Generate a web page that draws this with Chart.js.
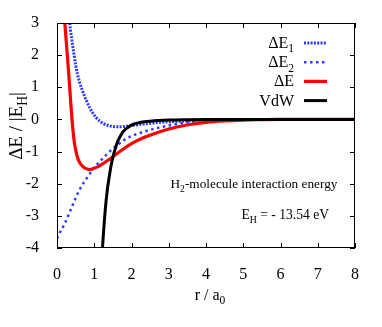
<!DOCTYPE html>
<html>
<head>
<meta charset="utf-8">
<script src="https://cdn.jsdelivr.net/npm/chart.js@4"></script>
<style>
  html, body { margin: 0; padding: 0; background: #fff; }
  canvas { display: block; }
</style>
</head>
<body>
<canvas id="myChart" width="382" height="327"></canvas>
<script>
// valores (r / a0 , dE / |EH|)
var rE1 = [0.33, 0.36, 0.39, 0.42, 0.45, 0.5, 0.55, 0.6, 0.66, 0.72, 0.8, 0.88, 0.96, 1.05, 1.15, 1.25, 1.38, 1.5, 1.65, 1.8, 2.0, 2.2, 2.5, 2.8, 3.2, 3.6, 4.0, 4.5, 5.0, 6.0, 8.0];
var dE1 = [3.1, 2.8, 2.55, 2.3, 2.07, 1.7, 1.4, 1.18, 0.97, 0.78, 0.56, 0.36, 0.2, 0.06, -0.05, -0.13, -0.19, -0.22, -0.23, -0.22, -0.19, -0.16, -0.12, -0.09, -0.06, -0.04, -0.025, -0.012, -0.005, 0, 0];

var rE2 = [0, 0.1, 0.2, 0.3, 0.4, 0.5, 0.6, 0.7, 0.8, 0.9, 1.0, 1.1, 1.2, 1.35, 1.5, 1.65, 1.83, 2.0, 2.2, 2.55, 3.0, 3.45, 4.0, 4.5, 5.0, 6.0, 8.0];
var dE2 = [-3.7, -3.47, -3.26, -3.0, -2.72, -2.45, -2.2, -2.0, -1.83, -1.66, -1.5, -1.37, -1.25, -1.07, -0.91, -0.77, -0.62, -0.52, -0.43, -0.31, -0.19, -0.1, -0.05, -0.025, -0.01, 0, 0];

var rE = [0.2, 0.22, 0.25, 0.28, 0.31, 0.34, 0.37, 0.4, 0.43, 0.47, 0.52, 0.57, 0.63, 0.7, 0.78, 0.88, 0.98, 1.1, 1.2, 1.33, 1.47, 1.65, 1.83, 2.0, 2.2, 2.55, 3.0, 3.45, 4.0, 4.5, 5.0, 5.5, 6.0, 8.0];
var dE = [3.2, 2.85, 2.4, 1.95, 1.5, 1.0, 0.5, 0.05, -0.35, -0.75, -1.05, -1.25, -1.38, -1.47, -1.53, -1.56, -1.53, -1.47, -1.4, -1.3, -1.19, -1.03, -0.88, -0.75, -0.63, -0.47, -0.3, -0.18, -0.09, -0.045, -0.02, -0.008, 0, 0];

var rVdW = [1.2, 1.22, 1.25, 1.3, 1.35, 1.4, 1.45, 1.5, 1.56, 1.63, 1.7, 1.78, 1.9, 2.05, 2.25, 2.5, 3.0, 3.5, 4.0, 5.0, 8.0];
var dVdW = [-4.3, -4.0, -3.5, -2.75, -2.2, -1.8, -1.45, -1.17, -0.93, -0.68, -0.52, -0.37, -0.25, -0.15, -0.09, -0.055, -0.02, -0.008, -0.003, 0, 0];

var xTicks = [0, 1, 2, 3, 4, 5, 6, 7, 8];
var yTicks = [-4, -3, -2, -1, 0, 1, 2, 3];

var FONT = '"Liberation Serif", "Times New Roman", serif';

function pts(xs, ys) {
  return xs.map(function (x, i) { return { x: x, y: ys[i] }; });
}

// texto con subindices: partes = [[texto, esSub], ...]
function richText(ctx, parts, x, y, size, align) {
  var w = 0;
  parts.forEach(function (p) {
    ctx.font = (p[1] ? size * 0.72 : size) + 'px ' + FONT;
    w += ctx.measureText(p[0]).width;
  });
  var cx = align === 'right' ? x - w : (align === 'center' ? x - w / 2 : x);
  ctx.textAlign = 'left';
  ctx.textBaseline = 'alphabetic';
  parts.forEach(function (p) {
    ctx.font = (p[1] ? size * 0.72 : size) + 'px ' + FONT;
    ctx.fillText(p[0], cx, p[1] ? y + size * 0.28 : y);
    cx += ctx.measureText(p[0]).width;
  });
}

var legendParts = [
  [['\u0394E', false], ['1', true]],
  [['\u0394E', false], ['2', true]],
  [['\u0394E', false]],
  [['VdW', false]]
];

var decor = {
  id: 'decor',
  afterDraw: function (chart) {
    var ctx = chart.ctx, a = chart.chartArea;
    var xs = chart.scales.x, ys = chart.scales.y;
    ctx.save();
    ctx.strokeStyle = '#000';
    ctx.lineWidth = 1;
    ctx.setLineDash([]);
    ctx.strokeRect(a.left + 0.5, a.top + 0.5, a.right - a.left - 1, a.bottom - a.top - 1);
    ctx.beginPath();
    xTicks.forEach(function (t) {
      var px = Math.round(xs.getPixelForValue(t)) + 0.5;
      ctx.moveTo(px, a.bottom); ctx.lineTo(px, a.bottom - 5);
      ctx.moveTo(px, a.top); ctx.lineTo(px, a.top + 5);
    });
    yTicks.forEach(function (t) {
      var py = Math.round(ys.getPixelForValue(t)) + 0.5;
      ctx.moveTo(a.left, py); ctx.lineTo(a.left + 5, py);
      ctx.moveTo(a.right, py); ctx.lineTo(a.right - 5, py);
    });
    ctx.stroke();

    // leyenda
    ctx.fillStyle = '#000';
    chart.data.datasets.forEach(function (ds, i) {
      var y = 43 + i * 19.2;
      richText(ctx, legendParts[i], 294, y + 5, 16, 'right');
      ctx.beginPath();
      ctx.strokeStyle = ds.borderColor;
      ctx.lineWidth = ds.borderWidth;
      ctx.setLineDash(ds.borderDash || []);
      ctx.moveTo(304, y); ctx.lineTo(327, y);
      ctx.stroke();
    });
    ctx.setLineDash([]);

    // anotaciones
    richText(ctx, [['H', false], ['2', true], ['-molecule interaction energy', false]], 170.5, 188, 13.3, 'left');
    richText(ctx, [['E', false], ['H', true], [' = - 13.54 eV', false]], 241.5, 219, 13.6, 'left');

    // titulos de ejes
    richText(ctx, [['r / a', false], ['0', true]], 210, 300, 16, 'center');
    ctx.translate(22, 126);
    ctx.rotate(-Math.PI / 2);
    richText(ctx, [['\u0394E / |E', false], ['H', true], ['|', false]], 0, 0, 19, 'center');
    ctx.restore();
  }
};

var ctx = document.getElementById('myChart').getContext('2d');
var myChart = new Chart(ctx, {
  type: 'line',
  data: {
    datasets: [
      { label: '\u0394E1', data: pts(rE1, dE1), borderColor: '#2a3cff', borderWidth: 3, borderDash: [2, 1.3], order: 4 },
      { label: '\u0394E2', data: pts(rE2, dE2), borderColor: '#2a3cff', borderWidth: 2.5, borderDash: [2.5, 3.5], order: 3 },
      { label: '\u0394E', data: pts(rE, dE), borderColor: '#ff0000', borderWidth: 3.2, order: 2 },
      { label: 'VdW', data: pts(rVdW, dVdW), borderColor: '#000000', borderWidth: 3, order: 1 }
    ]
  },
  options: {
    responsive: false,
    animation: false,
    devicePixelRatio: 1,
    layout: { padding: { top: 23, right: 27, left: 0, bottom: 0 } },
    elements: { point: { radius: 0 }, line: { cubicInterpolationMode: 'monotone', fill: false } },
    plugins: { legend: { display: false }, tooltip: { enabled: false } },
    scales: {
      x: {
        type: 'linear', min: xTicks[0], max: xTicks[xTicks.length - 1],
        grid: { display: false }, border: { display: false },
        ticks: { stepSize: 1, color: '#000', font: { family: FONT, size: 16 }, padding: 9, maxRotation: 0 },
        afterFit: function (s) { s.height = 79; }
      },
      y: {
        min: yTicks[0], max: yTicks[yTicks.length - 1],
        grid: { display: false }, border: { display: false },
        ticks: { stepSize: 1, color: '#000', font: { family: FONT, size: 16 }, padding: 10 },
        afterFit: function (s) { s.width = 57; }
      }
    }
  },
  plugins: [decor]
});
</script>
</body>
</html>
